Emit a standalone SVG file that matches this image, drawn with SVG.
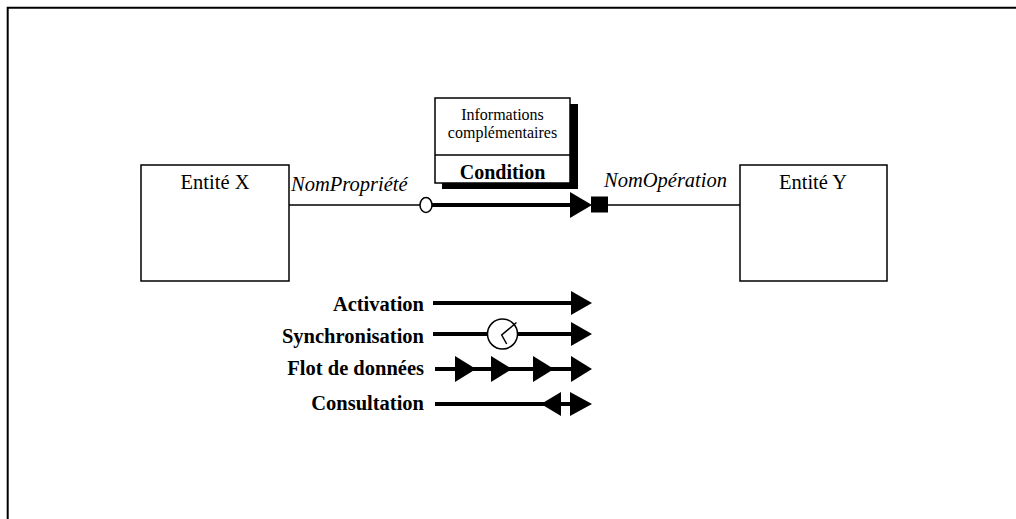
<svg xmlns="http://www.w3.org/2000/svg" width="1016" height="519" viewBox="0 0 1016 519">
<style>
  .serif { font-family: "Liberation Serif", "Times New Roman", serif; fill: #000; }
  .box { fill: #fff; stroke: #000; stroke-width: 1.5; }
  .thin { stroke: #000; stroke-width: 1.5; fill: none; }
  .thick { stroke: #000; stroke-width: 4; fill: none; }
  .head { fill: #000; stroke: none; }
  .lbl { font-size: 20.5px; font-weight: bold; text-anchor: end; }
</style>
<rect width="1016" height="519" fill="#fff"/>
<path d="M7.7,525 V7.7 H1025" fill="none" stroke="#000" stroke-width="2"/>

<g id="entite-x">
  <rect class="box" x="141" y="165" width="148" height="116"/>
  <text class="serif" x="215" y="189" font-size="20.5" text-anchor="middle">Entité X</text>
</g>

<g id="entite-y">
  <rect class="box" x="740" y="165" width="147" height="116"/>
  <text class="serif" x="813" y="189" font-size="20.5" text-anchor="middle">Entité Y</text>
</g>

<g id="condition">
  <rect x="442" y="104" width="136" height="85" fill="#000"/>
  <rect class="box" x="435" y="98" width="135" height="85"/>
  <line class="thin" x1="435" y1="155" x2="570" y2="155"/>
  <text class="serif" x="502.5" y="120" font-size="16" text-anchor="middle">Informations</text>
  <text class="serif" x="502.5" y="137.5" font-size="16" text-anchor="middle">complémentaires</text>
  <text class="serif" x="502.5" y="179" font-size="20" font-weight="bold" text-anchor="middle">Condition</text>
</g>

<g id="connectors">
  <line class="thin" x1="289" y1="205" x2="420" y2="205"/>
  <ellipse cx="426" cy="205" rx="6" ry="7.5" fill="#fff" stroke="#000" stroke-width="1.5"/>
  <line class="thick" x1="432" y1="205" x2="572" y2="205"/>
  <polygon class="head" points="570,192 592,205 570,218"/>
  <rect x="591" y="196.5" width="17" height="16" fill="#000"/>
  <line class="thin" x1="608" y1="205" x2="740" y2="205"/>
  <text class="serif" x="291" y="191" font-size="20.5" font-style="italic">NomPropriété</text>
  <text class="serif" x="604" y="187" font-size="20.5" font-style="italic">NomOpération</text>
</g>

<g id="legend">
  <text class="serif lbl" x="424" y="311">Activation</text>
  <line class="thick" x1="433" y1="303" x2="573" y2="303"/>
  <polygon class="head" points="571,291 592,303 571,315"/>

  <text class="serif lbl" x="424" y="343">Synchronisation</text>
  <line class="thick" x1="433" y1="334" x2="573" y2="334" stroke-width="3.5"/>
  <circle cx="502.5" cy="334" r="15" fill="#fff" stroke="#000" stroke-width="1.5"/>
  <polyline class="thin" points="516.5,322.5 501.7,335 506.7,344"/>
  <polygon class="head" points="571,322 592,334 571,346"/>

  <text class="serif lbl" x="424" y="375">Flot de données</text>
  <line class="thick" x1="435" y1="369" x2="573" y2="369"/>
  <polygon class="head" points="455,356 476,369 455,382"/>
  <polygon class="head" points="491,356 512,369 491,382"/>
  <polygon class="head" points="533,356 554,369 533,382"/>
  <polygon class="head" points="571,356 592,369 571,382"/>

  <text class="serif lbl" x="424" y="410">Consultation</text>
  <line class="thick" x1="435" y1="404" x2="573" y2="404"/>
  <polygon class="head" points="541,404 561,392 561,416"/>
  <polygon class="head" points="570,392 592,404 570,416"/>
</g>
</svg>
